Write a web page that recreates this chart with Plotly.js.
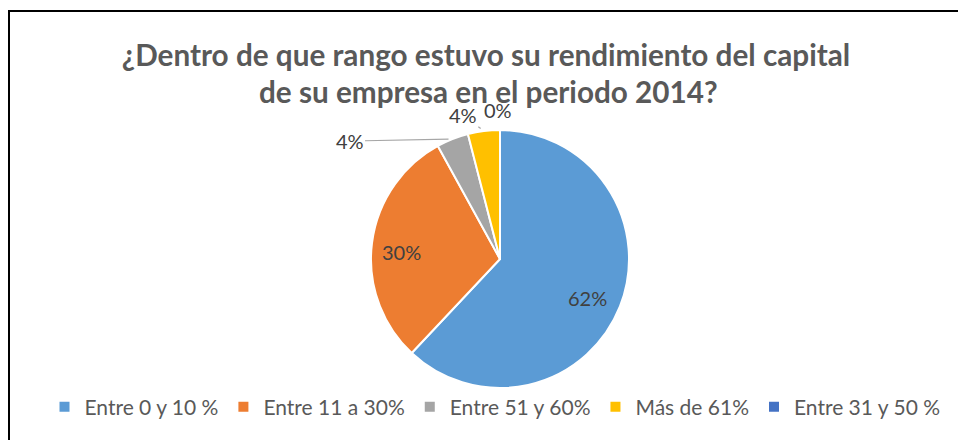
<!DOCTYPE html>
<html>
<head>
<meta charset="utf-8">
<script src="https://cdn.plot.ly/plotly-3.0.1.min.js"></script>
<style>html,body{margin:0;padding:0;background:#fff;}#chart{width:958px;height:440px;}</style>
</head>
<body>
<div id="chart"></div>
<script>
const titleLine1 = "¿Dentro de que rango estuvo su rendimiento del capital";
const titleLine2 = "de su empresa en el periodo 2014?";
const categories = ["Entre 0 y 10 %", "Entre 11 a 30%", "Entre 51 y 60%", "Más de 61%", "Entre 31 y 50 %"];
const values = [62, 30, 4, 4, 0];
const colors = ["#5B9BD5", "#ED7D31", "#A5A5A5", "#FFC000", "#4472C4"];

const W = 958, H = 440;
const FONT = "Lato, 'Open Sans', sans-serif";
const domain = {x: [371 / W, 629 / W], y: [1 - 388 / H, 1 - 130 / H]};

// label placement styles (Excel "best fit" look)
const labelStyle = [
  {mode: "inside", rf: 0.73, dy: -18},
  {mode: "inside", rf: 0.77, dy: -5},
  {mode: "leader", ax: -103, ay: 2, line: true},
  {mode: "leader", ax: -21, ay: -16, line: true},
  {mode: "leader", ax: -2, ay: -20, line: false}
];

const trace = {
  type: "pie",
  labels: categories,
  values: values,
  sort: false,
  direction: "clockwise",
  rotation: 0,
  marker: {colors: colors, line: {color: "#ffffff", width: 2}},
  textinfo: "none",
  domain: domain,
  hoverinfo: "label+percent"
};

// data labels computed from the values (cumulative angles)
const total = values.reduce((a, b) => a + b, 0);
const cxPx = (domain.x[0] + domain.x[1]) / 2 * W;
const cyPx = (1 - (domain.y[0] + domain.y[1]) / 2) * H;
const R = (domain.x[1] - domain.x[0]) * W / 2;
let cum = 0;
const labelAnns = values.map((v, i) => {
  const mid = (cum + v / 2) / total * 2 * Math.PI;
  cum += v;
  const st = labelStyle[i];
  const txt = Math.round(v / total * 100) + "%";
  const font = {family: FONT, size: 20, color: "#404040"};
  const r = st.mode === "inside" ? R * st.rf : R;
  const px = cxPx + r * Math.sin(mid);
  const py = cyPx - r * Math.cos(mid);
  const a = {text: txt, xref: "paper", yref: "paper", x: px / W, y: 1 - py / H, font: font};
  if (st.mode === "inside") {
    a.showarrow = false; a.yshift = st.dy;
  } else {
    a.showarrow = true; a.arrowhead = 0; a.arrowwidth = 1.2;
    a.arrowcolor = st.line ? "#A6A6A6" : "rgba(0,0,0,0)";
    a.ax = st.ax; a.ay = st.ay; a.standoff = 4;
  }
  return a;
});

const layout = {
  width: W, height: H,
  margin: {l: 0, r: 0, t: 0, b: 0},
  paper_bgcolor: "#ffffff",
  font: {family: FONT, color: "#595959"},
  title: {
    text: "<b>" + titleLine1 + "</b>",
    x: 486 / W, xanchor: "center",
    y: 1 - 66 / H, yanchor: "bottom",
    yref: "paper",
    font: {family: FONT, size: 29.7, color: "#595959"}
  },
  annotations: [{
    text: "<b>" + titleLine2 + "</b>",
    xref: "paper", yref: "paper",
    x: 488 / W, y: 1 - 111 / H, xanchor: "center", yanchor: "bottom",
    showarrow: false,
    font: {family: FONT, size: 29.7, color: "#595959"}
  }].concat(labelAnns),
  showlegend: true,
  legend: {
    orientation: "h",
    x: 495 / W, xanchor: "center",
    y: 1 - 407 / H, yanchor: "middle",
    font: {family: FONT, size: 21, color: "#595959"},
    traceorder: "normal"
  },
  shapes: [{
    type: "rect", xref: "paper", yref: "paper",
    x0: 9 / W, x1: 1.02, y0: -0.02, y1: 1 - 11 / H,
    line: {color: "#000000", width: 2}, fillcolor: "rgba(0,0,0,0)"
  }]
};

Plotly.newPlot("chart", [trace], layout, {displayModeBar: false, staticPlot: true});
</script>
</body>
</html>
